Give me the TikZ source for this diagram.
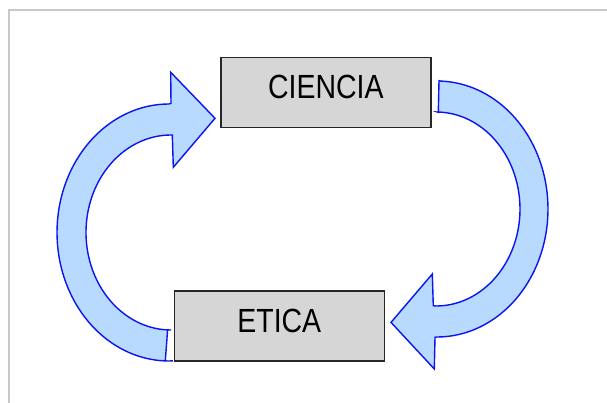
\documentclass[tikz,border=0pt]{standalone}
\usepackage{fontspec}
\setmainfont{Liberation Sans}[FakeStretch=0.85]
\definecolor{arrowfill}{HTML}{B8DAFF}
\definecolor{arrowline}{HTML}{0A14F0}
\definecolor{boxfill}{HTML}{D6D6D6}
\definecolor{framegray}{HTML}{C8C8C8}
\tikzset{
  conceptbox/.style={draw=black!85, line width=1.6pt, fill=boxfill, minimum width=210pt, minimum height=70pt, inner sep=0pt},
  conceptlabel/.style={anchor=base, inner sep=0pt, font=\fontsize{33.5}{36}\selectfont},
  blockarrow/.style={draw=arrowline, line width=1.4pt, fill=arrowfill, line join=miter},
}
\begin{document}
\begin{tikzpicture}[x=1pt,y=-1pt]
\useasboundingbox (0,0) rectangle (607,403);
\fill[white] (0,0) rectangle (607,403);
% frame
\draw[framegray, line width=1.8pt] (9,403) -- (9,10) -- (607,10);
% boxes
\node[conceptbox] (ciencia) at (325.8,92.5) {};
\node[conceptlabel] (cienciatext) at (325.8,99) {CIENCIA};
\node[conceptbox] (etica) at (279.3,325.8) {};
\node[conceptlabel] (eticatext) at (279.3,332.7) {ETICA};
% right arrow: CIENCIA -> ETICA
\path[blockarrow]
  (439,80.7) -- plot[domain=-88:90,samples=80] ({437+111*cos(\x)},{209+128*sin(\x)})
  -- (435,337.3) -- (434.3,369) -- (391,322.4) -- (432.3,274) -- (433.3,305.7)
  -- plot[domain=90:-89,samples=80] ({436+84*cos(\x)},{209+97*sin(\x)})
  -- (438.3,112.3) -- cycle;
% left arrow: ETICA -> CIENCIA
\path[blockarrow]
  (165.3,361) -- plot[domain=88:270,samples=80] ({169+112*cos(\x)},{232.5+128.5*sin(\x)})
  -- (171,103.3) -- (170.7,72.3) -- (215,118.3) -- (173.3,167.3) -- (172.3,135)
  -- plot[domain=270:90,samples=80] ({171+85*cos(\x)},{232.5+97.5*sin(\x)})
  -- (167.6,330) -- cycle;
\end{tikzpicture}
\end{document}
